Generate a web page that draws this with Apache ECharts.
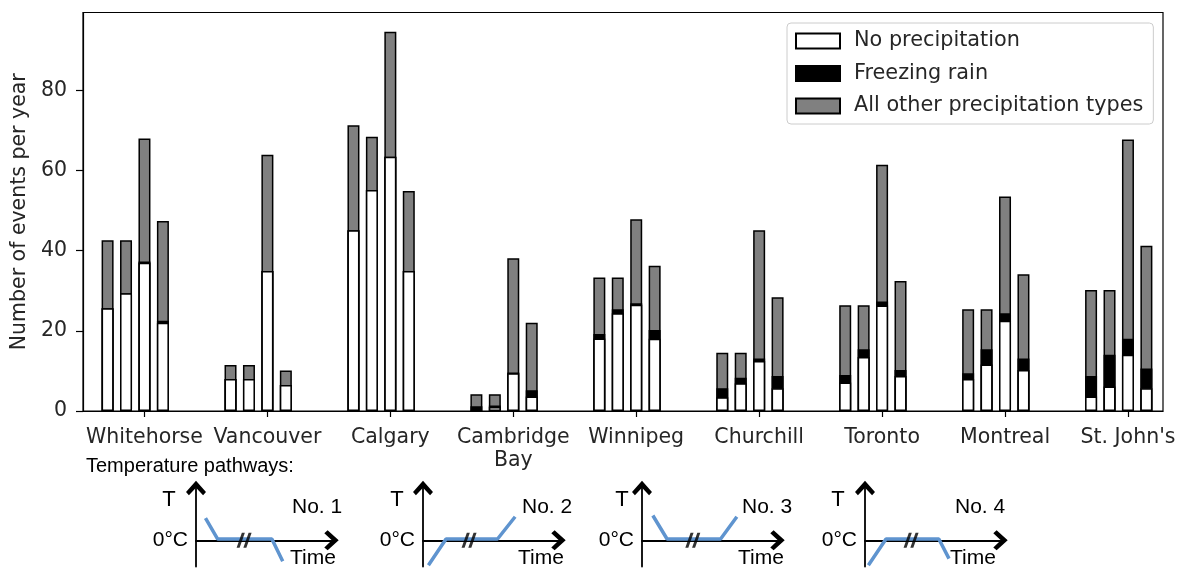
<!DOCTYPE html>
<html>
<head>
<meta charset="utf-8">
<script src="https://cdn.jsdelivr.net/npm/echarts@6/dist/echarts.min.js"></script>
<style>
  html, body { margin: 0; padding: 0; background: #fff; }
  #chart { width: 1185px; height: 578px; }
</style>
</head>
<body>
<div id="chart"></div>
<script>
// cities on the x axis, 4 temperature pathways per city
var cities = ['Whitehorse', 'Vancouver', 'Calgary', 'Cambridge\nBay', 'Winnipeg', 'Churchill', 'Toronto', 'Montreal', "St. John's"]
var pathOffsets = [-0.3, -0.15, 0, 0.15]

// events per year, 4 values (pathway 1..4) per city
var noPrecip = [
  25.6, 29.4, 37.0, 22.0,
  8.0, 8.0, 34.9, 6.5,
  45.1, 55.1, 63.4, 34.9,
  0.2, 1.0, 9.4, 3.6,
  18.1, 24.4, 26.5, 18.0,
  3.4, 6.9, 12.5, 5.7,
  7.1, 13.5, 26.3, 8.7,
  8.0, 11.6, 22.5, 10.2,
  3.6, 6.1, 14.0, 5.7
]
var freezingRain = [
  0, 0, 0.3, 0.5,
  0, 0, 0, 0,
  0, 0, 0, 0,
  1.0, 0.4, 0.2, 1.6,
  1.1, 1.0, 0.4, 2.2,
  2.3, 1.4, 0.6, 3.0,
  1.9, 1.9, 1.0, 1.5,
  1.4, 3.8, 1.9, 2.9,
  5.1, 7.9, 4.0, 4.9
]
var otherPrecip = [
  17.0, 13.2, 30.7, 24.9,
  3.5, 3.5, 29.0, 3.6,
  26.2, 13.3, 31.2, 20.0,
  3.0, 2.8, 28.5, 16.8,
  14.1, 7.9, 20.9, 16.0,
  8.8, 6.2, 32.0, 19.7,
  17.4, 11.0, 34.1, 22.2,
  16.0, 10.0, 29.1, 21.0,
  21.5, 16.2, 49.7, 30.6
]
var yTicks = [0, 20, 40, 60, 80]

// temperature pathway sketches: [time, temperature] in sketch units
var path1 = [[0.7, 0.85], [1.6, 0.05], [5.6, 0.05], [6.4, -0.8]]
var path2 = [[0.4, -0.95], [1.7, 0.05], [5.5, 0.05], [6.8, 0.9]]
var path3 = [[0.8, 0.95], [1.85, 0.05], [5.8, 0.05], [7.0, 0.9]]
var path4 = [[0.25, -0.95], [1.55, 0.05], [5.45, 0.05], [6.2, -0.7]]
var breakX = [3.55, 3.4, 3.75, 3.4]

var pathways = [path1, path2, path3, path4]

// layout of the four little sketches
var sketchLeft = [196, 423, 642, 865]
var tLabelX = [169, 397, 622, 838]
var noLabelX = [292, 522, 742, 955]
var timeLabelX = [290, 518, 738, 950]

var chevron = 'path://M0,10L9,0L18,10L15.4,13L9,6.2L2.6,13Z'
var breakMark = 'path://M0,12L2.4,12L6.6,0L4.2,0ZM5.4,12L7.8,12L12,0L9.6,0Z'

function barData (vals) {
  var out = []
  for (var i = 0; i < vals.length; i++) {
    var city = Math.floor(i / 4)
    out.push([city + pathOffsets[i % 4], vals[i]])
  }
  return out
}

var whiteTop = noPrecip.slice()
var blackTop = []
var grayTop = []
for (var i = 0; i < noPrecip.length; i++) {
  blackTop.push(+(noPrecip[i] + freezingRain[i]).toFixed(2))
  grayTop.push(+(noPrecip[i] + freezingRain[i] + otherPrecip[i]).toFixed(2))
}

var chart = echarts.init(document.getElementById('chart'))

var textColor = '#262626'
var mplFont = 'DejaVu Sans'

var grids = [{
  left: 83, right: 22, top: 12.5, bottom: 167,
  show: true, borderColor: '#000', borderWidth: 1.2
}]
var xAxes = [{
  type: 'value', gridIndex: 0, min: -0.5, max: 8.285,
  axisLine: { onZero: false, lineStyle: { color: '#000', width: 1.2 } },
  axisTick: { customValues: [0, 1, 2, 3, 4, 5, 6, 7, 8], length: 6, lineStyle: { color: '#000', width: 1.2 } },
  axisLabel: {
    customValues: [0, 1, 2, 3, 4, 5, 6, 7, 8],
    formatter: function (v) { return cities[Math.round(v)] },
    color: textColor, fontFamily: mplFont, fontSize: 20.5, margin: 15, lineHeight: 23
  },
  splitLine: { show: false }
}]
var yAxes = [{
  type: 'value', gridIndex: 0, min: 0, max: 99.4,
  name: 'Number of events per year', nameLocation: 'middle', nameGap: 51,
  nameTextStyle: { color: textColor, fontFamily: mplFont, fontSize: 20.5 },
  axisLine: { show: true, onZero: false, lineStyle: { color: '#000', width: 1.2 } },
  axisTick: { customValues: yTicks, length: 7, lineStyle: { color: '#000', width: 1.2 } },
  axisLabel: { customValues: yTicks, color: textColor, fontFamily: mplFont, fontSize: 20.5, margin: 16 },
  splitLine: { show: false }
}]

var barStyle = { borderColor: '#000', borderWidth: 1.5 }
var series = [
  {
    name: 'All other precipitation types', type: 'bar', xAxisIndex: 0, yAxisIndex: 0,
    barWidth: 12, barGap: '-100%', data: barData(grayTop),
    itemStyle: Object.assign({ color: '#808080' }, barStyle)
  },
  {
    name: 'Freezing rain', type: 'bar', xAxisIndex: 0, yAxisIndex: 0,
    barWidth: 12, barGap: '-100%', data: barData(blackTop),
    itemStyle: Object.assign({ color: '#000000' }, barStyle)
  },
  {
    name: 'No precipitation', type: 'bar', xAxisIndex: 0, yAxisIndex: 0,
    barWidth: 12, barGap: '-100%', data: barData(whiteTop),
    itemStyle: Object.assign({ color: '#ffffff' }, barStyle)
  }
]

var sketchFont = 'Liberation Sans'
var graphics = [{
  type: 'text', x: 86, y: 466,
  style: { text: 'Temperature pathways:', font: '20px "Liberation Sans"', fill: '#000', verticalAlign: 'middle' }
}]

for (var k = 0; k < 4; k++) {
  var gi = k + 1
  var L = sketchLeft[k]
  grids.push({ left: L, top: 488, width: 135.5, height: 78.5 })
  xAxes.push({
    type: 'value', gridIndex: gi, min: 0, max: 10,
    axisLine: { symbol: ['none', chevron], symbolSize: [20, 14.4], lineStyle: { color: '#000', width: 1.8 } },
    axisTick: { show: false }, axisLabel: { show: false }, splitLine: { show: false }
  })
  yAxes.push({
    type: 'value', gridIndex: gi, min: -1, max: 2,
    axisLine: { symbol: ['none', chevron], symbolSize: [20, 14.4], lineStyle: { color: '#000', width: 1.8 } },
    axisTick: { show: false },
    axisLabel: {
      customValues: [0], formatter: function () { return '0°C' },
      color: '#000', fontFamily: sketchFont, fontSize: 21, margin: 8
    },
    splitLine: { show: false }
  })
  series.push({
    type: 'line', xAxisIndex: gi, yAxisIndex: gi, data: pathways[k],
    symbol: 'none', silent: true, z: 5,
    lineStyle: { color: '#5f94cf', width: 3.5 }
  })
  series.push({
    type: 'scatter', xAxisIndex: gi, yAxisIndex: gi, data: [[breakX[k], 0]],
    symbol: breakMark, symbolSize: [15, 15], silent: true, z: 6,
    itemStyle: { color: '#000' }
  })
  graphics.push({
    type: 'text', x: tLabelX[k], y: 500,
    style: { text: 'T', font: '22px "Liberation Sans"', fill: '#000', align: 'center', verticalAlign: 'middle' }
  })
  graphics.push({
    type: 'text', x: noLabelX[k], y: 507,
    style: { text: 'No. ' + (k + 1), font: '21px "Liberation Sans"', fill: '#000', verticalAlign: 'middle' }
  })
  graphics.push({
    type: 'text', x: timeLabelX[k], y: 558,
    style: { text: 'Time', font: '21px "Liberation Sans"', fill: '#000', verticalAlign: 'middle' }
  })
}

var option = {
  animation: false,
  grid: grids,
  xAxis: xAxes,
  yAxis: yAxes,
  legend: {
    data: [
      { name: 'No precipitation', icon: 'rect' },
      { name: 'Freezing rain', icon: 'rect' },
      { name: 'All other precipitation types', icon: 'rect' }
    ],
    orient: 'vertical', left: 787, top: 23,
    itemWidth: 44, itemHeight: 15, itemGap: 11.5,
    padding: [7.5, 10, 7.5, 8],
    backgroundColor: 'rgba(255,255,255,0.8)',
    borderColor: '#cccccc', borderWidth: 1, borderRadius: 4,
    selectedMode: false,
    textStyle: { color: textColor, fontFamily: mplFont, fontSize: 20.8, padding: [0, 0, 0, 9] }
  },
  graphic: graphics,
  series: series
}

chart.setOption(option)
</script>
</body>
</html>
